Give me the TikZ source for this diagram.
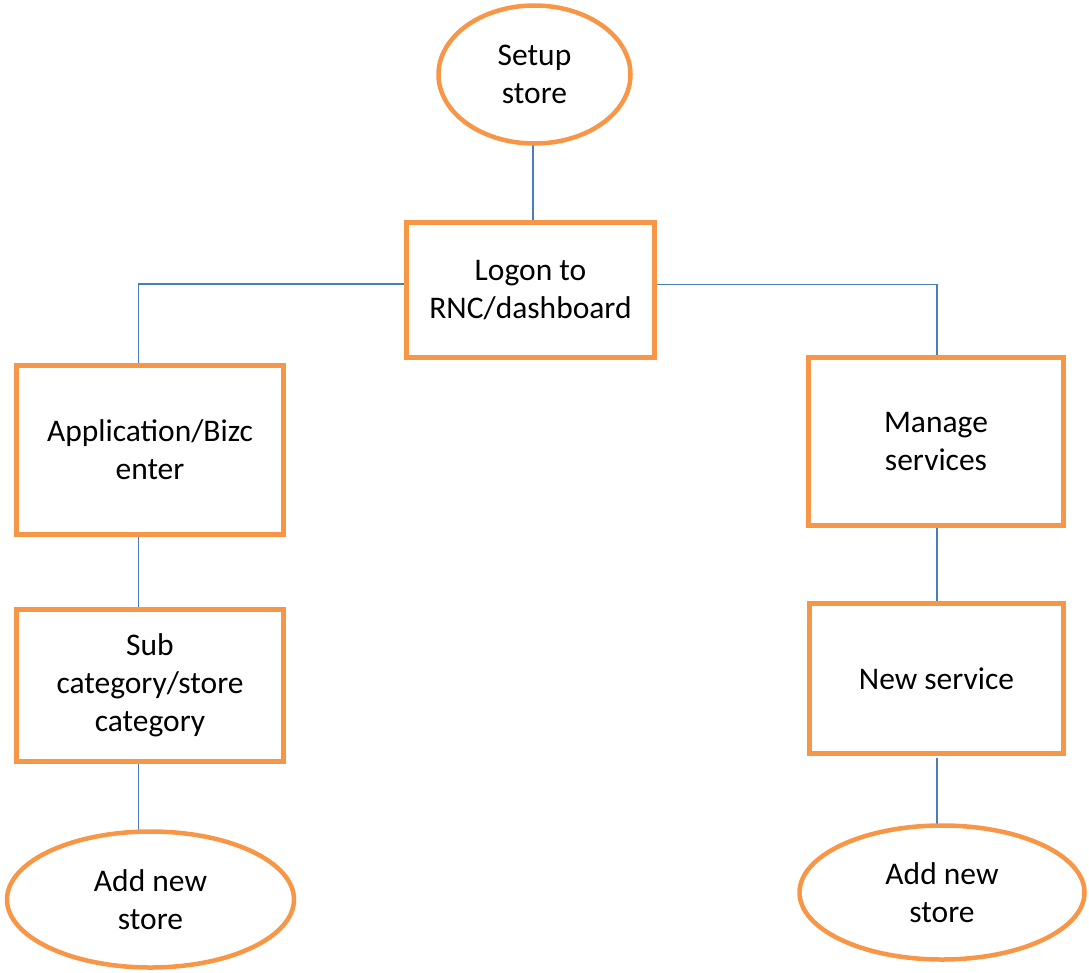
\documentclass[tikz,border=0pt]{standalone}
\usepackage{fontspec}
\setmainfont{Carlito}
\usetikzlibrary{shapes.geometric,backgrounds}
\definecolor{boxorange}{HTML}{F79646}
\definecolor{linkblue}{HTML}{4A7EBB}
\begin{document}
\begin{tikzpicture}[x=1pt,y=-1pt,
  every node/.style={font=\fontsize{31.5}{38}\selectfont, align=center, text=black, inner sep=0pt, outer sep=0pt},
  procbox/.style={draw=boxorange, line width=5pt, rectangle},
  termoval/.style={draw=boxorange, line width=4.5pt, ellipse},
  link/.style={draw=linkblue, line width=1.6pt}]
\useasboundingbox (0,0) rectangle (1089,972);
\node[termoval, minimum width=192pt, minimum height=138pt] (setup) at (534.5,74.5) {Setup\\store};
\node[procbox, minimum width=248pt, minimum height=135pt] (logon) at (530.5,290) {Logon to\\RNC/dashboard};
\node[procbox, minimum width=267pt, minimum height=169pt] (app) at (150,450) {Application/Bizc\\enter};
\node[procbox, minimum width=267pt, minimum height=152pt] (sub) at (150,685.5) {Sub\\category/store\\category};
\node[termoval, minimum width=287pt, minimum height=136pt] (ladd) at (150.5,899.5) {Add new\\store};
\node[procbox, minimum width=255pt, minimum height=168pt] (manage) at (936,441.5) {Manage\\services};
\node[procbox, minimum width=254pt, minimum height=150pt] (newsvc) at (936.5,678.5) {New service};
\node[termoval, minimum width=285pt, minimum height=134pt] (radd) at (942,892.5) {Add new\\store};
\coordinate (lc) at (138.5,284);
\coordinate (rc) at (936.7,284.5);
\coordinate (tc) at (533,0);
\begin{scope}[on background layer]
\draw[link] (tc |- setup.south) -- (tc |- logon.north);
\draw[link] (logon.west |- lc) -- (lc) -- (lc |- app.north);
\draw[link] (logon.east |- rc) -- (rc) -- (rc |- manage.north);
\draw[link] (lc |- app.south) -- (lc |- sub.north);
\draw[link] (lc |- sub.south) -- (lc |- ladd.north);
\draw[link] (rc |- manage.south) -- (rc |- newsvc.north);
\draw[link] (rc |- newsvc.south) ++(0,4) -- (rc |- radd.north);
\end{scope}
\end{tikzpicture}
\end{document}
